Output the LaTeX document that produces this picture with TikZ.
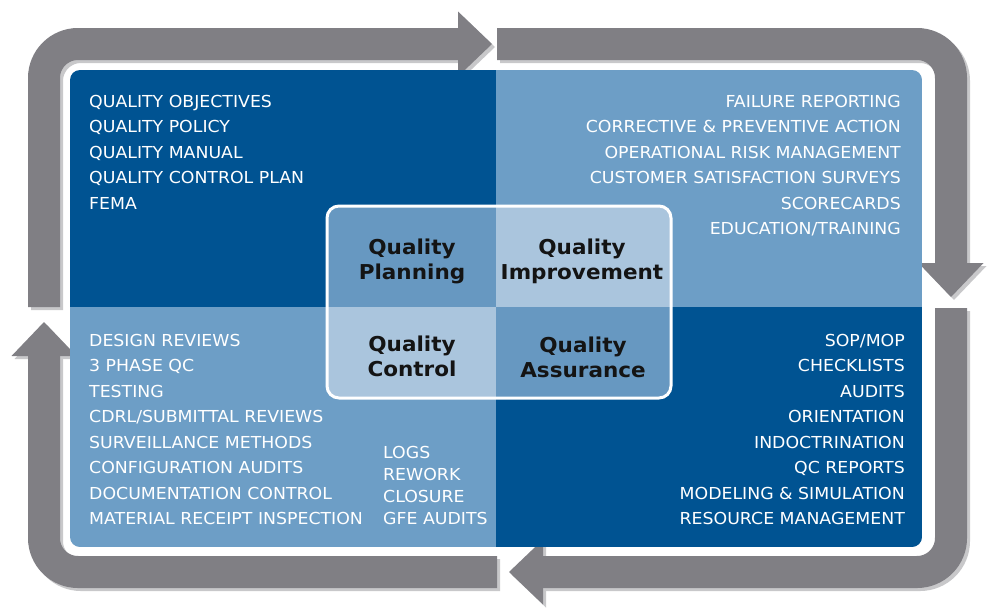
\documentclass[tikz,border=0pt]{standalone}
\usepackage{fontspec}
\setmainfont[FakeStretch=1.05]{DejaVu Sans}
\usetikzlibrary{arrows.meta}
\definecolor{loopgray}{RGB}{128,127,132}
\definecolor{loopshade}{RGB}{200,200,202}
\definecolor{qdark}{RGB}{0,83,146}
\definecolor{qmid}{RGB}{109,158,198}
\definecolor{qcell}{RGB}{103,152,193}
\definecolor{qlight}{RGB}{170,197,221}
\tikzset{
    band/.style={line width=32pt, rounded corners=34pt,
        -{Triangle[length=34pt,width=65pt,line width=0pt]}},
    item/.style={text=white, inner sep=0pt, font=\fontsize{16.5}{18}\selectfont},
    title/.style={text=black!92, align=center, inner sep=0pt,
        font=\fontsize{20.5}{25}\selectfont\bfseries}
}

\begin{document}
\begin{tikzpicture}[x=1pt,y=-1pt]
    \useasboundingbox (0,0) rectangle (989,616);

    \foreach \c/\s in {loopshade/3, loopgray/0} {
        \begin{scope}[shift={(\s,\s)}, color=\c]
            \draw[band] (44,307) -- (44,44) -- (492,44);
            \draw[band] (497,44) -- (951,44) -- (951,297);
            \draw[band] (951,308) -- (951,572) -- (509,572);
            \draw[band] (497,572) -- (44,572) -- (44,322);
        \end{scope}
    }

    \begin{scope}
        \clip[rounded corners=10pt] (70,70) rectangle (922,547);
        \fill[qdark] (70,70) rectangle (496,307);
        \fill[qmid] (496,70) rectangle (922,307);
        \fill[qmid] (70,307) rectangle (496,547);
        \fill[qdark] (496,307) rectangle (922,547);
    \end{scope}

    \begin{scope}
        \clip[rounded corners=12pt] (327,206) rectangle (671,398);
        \fill[qcell] (327,206) rectangle (496,307);
        \fill[qlight] (496,206) rectangle (671,307);
        \fill[qlight] (327,307) rectangle (496,398);
        \fill[qcell] (496,307) rectangle (671,398);
    \end{scope}
    \draw[white, line width=3pt, rounded corners=12pt] (327,206) rectangle (671,398);

    \node[title] (planning) at (412,261) {Quality\\Planning};
    \node[title] (improvement) at (582,261) {Quality\\Improvement};
    \node[title] (control) at (412,356.5) {Quality\\Control};
    \node[title] (assurance) at (583,357.5) {Quality\\Assurance};

    \foreach \t [count=\i] in {QUALITY OBJECTIVES, QUALITY POLICY, QUALITY MANUAL,
        QUALITY CONTROL PLAN, FEMA}
        \node[item, anchor=base west] (plan\i) at (89,{107+25.5*(\i-1)}) {\t};
    \foreach \t [count=\i] in {FAILURE REPORTING, CORRECTIVE \& PREVENTIVE ACTION,
        OPERATIONAL RISK MANAGEMENT, CUSTOMER SATISFACTION SURVEYS, SCORECARDS,
        EDUCATION/TRAINING}
        \node[item, anchor=base east] (impr\i) at (901,{107+25.5*(\i-1)}) {\t};
    \foreach \t [count=\i] in {DESIGN REVIEWS, 3 PHASE QC, TESTING,
        CDRL/SUBMITTAL REVIEWS, SURVEILLANCE METHODS, CONFIGURATION AUDITS,
        DOCUMENTATION CONTROL, MATERIAL RECEIPT INSPECTION}
        \node[item, anchor=base west] (ctrl\i) at (89,{346+25.5*(\i-1)}) {\t};
    \foreach \t [count=\i] in {LOGS, REWORK, CLOSURE, GFE AUDITS}
        \node[item, anchor=base west] (log\i) at (383,{458+22.3*(\i-1)}) {\t};
    \foreach \t [count=\i] in {SOP/MOP, CHECKLISTS, AUDITS, ORIENTATION,
        INDOCTRINATION, QC REPORTS, MODELING \& SIMULATION, RESOURCE MANAGEMENT}
        \node[item, anchor=base east] (assu\i) at (905,{346+25.5*(\i-1)}) {\t};
\end{tikzpicture}
\end{document}
